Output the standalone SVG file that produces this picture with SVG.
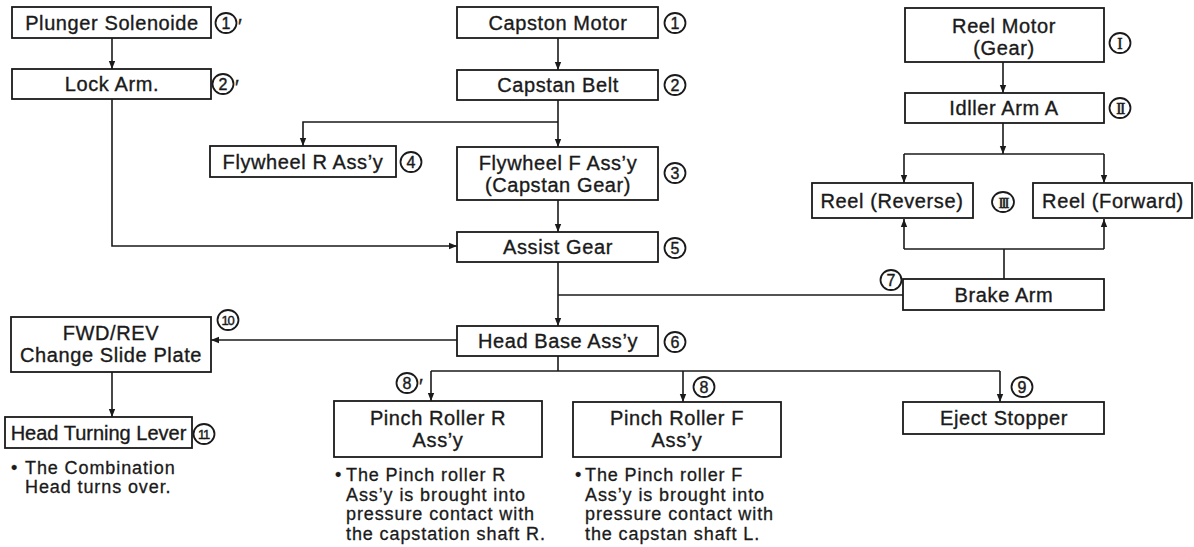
<svg xmlns="http://www.w3.org/2000/svg" width="1194" height="547" viewBox="0 0 1194 547">
<style>
.box{fill:#fff;stroke:#1a1a1a;stroke-width:1.8}
.t{font-family:"Liberation Sans",Arial,sans-serif;font-size:20px;fill:#1a1a1a;text-anchor:middle;letter-spacing:0.6px;stroke:#1a1a1a;stroke-width:0.35}
.n{font-family:"Liberation Sans",Arial,sans-serif;font-size:18px;fill:#1a1a1a;letter-spacing:0.9px;stroke:#1a1a1a;stroke-width:0.3}
.c{fill:none;stroke:#1a1a1a;stroke-width:1.8}
.cn{font-family:"Liberation Sans",Arial,sans-serif;font-size:16px;fill:#1a1a1a;text-anchor:middle;stroke:#1a1a1a;stroke-width:0.4}
.cn2{font-family:"Liberation Sans",Arial,sans-serif;font-size:13px;fill:#1a1a1a;text-anchor:middle;stroke:#1a1a1a;stroke-width:0.4;letter-spacing:-1.2px}
.cr{font-family:"Liberation Serif","Times New Roman",serif;font-size:16px;fill:#1a1a1a;text-anchor:middle;stroke:#1a1a1a;stroke-width:0.5}
.pr{font-family:"Liberation Sans",Arial,sans-serif;font-size:20px;fill:#1a1a1a;stroke:#1a1a1a;stroke-width:0.4}
.ln{fill:none;stroke:#1a1a1a;stroke-width:1.6}
</style>
<defs>
<marker id="ah" markerWidth="8" markerHeight="8" refX="8" refY="4" orient="auto" markerUnits="userSpaceOnUse">
<path d="M0,0.8 L8,4 L0,7.2 Z" fill="#1a1a1a"/>
</marker>
</defs>
<rect width="1194" height="547" fill="#fff"/>

<g id="connectors">
<path class="ln" d="M112,38 V69" marker-end="url(#ah)"/>
<path class="ln" d="M112,99 V246 H457" marker-end="url(#ah)"/>
<path class="ln" d="M558,38 V70" marker-end="url(#ah)"/>
<path class="ln" d="M558,100 V147" marker-end="url(#ah)"/>
<path class="ln" d="M558,122 H303 V146" marker-end="url(#ah)"/>
<path class="ln" d="M558,200 V232" marker-end="url(#ah)"/>
<path class="ln" d="M558,262 V326" marker-end="url(#ah)"/>
<path class="ln" d="M558,295 H903"/>
<path class="ln" d="M457,340 H211" marker-end="url(#ah)"/>
<path class="ln" d="M112,372 V417" marker-end="url(#ah)"/>
<path class="ln" d="M558,356 V371"/>
<path class="ln" d="M431,371 H1000"/>
<path class="ln" d="M431,371 V401" marker-end="url(#ah)"/>
<path class="ln" d="M683,371 V402" marker-end="url(#ah)"/>
<path class="ln" d="M1000,371 V402" marker-end="url(#ah)"/>
<path class="ln" d="M1003,62 V93" marker-end="url(#ah)"/>
<path class="ln" d="M1003,123 V154" marker-end="url(#ah)"/>
<path class="ln" d="M904,154 H1104"/>
<path class="ln" d="M904,154 V183" marker-end="url(#ah)"/>
<path class="ln" d="M1104,154 V183" marker-end="url(#ah)"/>
<path class="ln" d="M1004,279 V249"/>
<path class="ln" d="M904,249 H1104"/>
<path class="ln" d="M904,249 V219" marker-end="url(#ah)"/>
<path class="ln" d="M1104,249 V219" marker-end="url(#ah)"/>
</g>

<g id="plunger-solenoide">
<rect class="box" x="12" y="7" width="199" height="31"/>
<text class="t" x="112" y="30">Plunger Solenoide</text>
<ellipse class="c" cx="226" cy="23" rx="10.5" ry="10"/><text class="cn" x="226" y="29">1</text>
<text class="pr" x="238" y="33">′</text>
</g>

<g id="lock-arm">
<rect class="box" x="12" y="69" width="199" height="30"/>
<text class="t" x="112" y="91">Lock Arm.</text>
<ellipse class="c" cx="223" cy="84" rx="10.5" ry="10"/><text class="cn" x="223" y="90">2</text>
<text class="pr" x="235" y="94">′</text>
</g>

<g id="capston-motor">
<rect class="box" x="457" y="7" width="201" height="31"/>
<text class="t" x="558" y="30">Capston Motor</text>
<ellipse class="c" cx="675" cy="23" rx="10.5" ry="10"/><text class="cn" x="675" y="29">1</text>
</g>

<g id="capstan-belt">
<rect class="box" x="457" y="70" width="201" height="30"/>
<text class="t" x="558" y="92">Capstan Belt</text>
<ellipse class="c" cx="675" cy="85" rx="10.5" ry="10"/><text class="cn" x="675" y="91">2</text>
</g>

<g id="flywheel-r">
<rect class="box" x="210" y="146" width="186" height="31"/>
<text class="t" x="303" y="169">Flywheel R Ass’y</text>
<ellipse class="c" cx="411" cy="162" rx="10.5" ry="10"/><text class="cn" x="411" y="168">4</text>
</g>

<g id="flywheel-f">
<rect class="box" x="457" y="147" width="201" height="53"/>
<text class="t" x="558" y="170">Flywheel F Ass’y</text>
<text class="t" x="558" y="192">(Capstan Gear)</text>
<ellipse class="c" cx="675" cy="173" rx="10.5" ry="10"/><text class="cn" x="675" y="179">3</text>
</g>

<g id="assist-gear">
<rect class="box" x="457" y="232" width="201" height="30"/>
<text class="t" x="558" y="254">Assist Gear</text>
<ellipse class="c" cx="675" cy="248" rx="10.5" ry="10"/><text class="cn" x="675" y="254">5</text>
</g>

<g id="head-base">
<rect class="box" x="457" y="326" width="201" height="30"/>
<text class="t" x="558" y="348">Head Base Ass’y</text>
<ellipse class="c" cx="675" cy="342" rx="10.5" ry="10"/><text class="cn" x="675" y="348">6</text>
</g>

<g id="fwd-rev">
<rect class="box" x="11" y="317" width="200" height="55"/>
<text class="t" x="111" y="340">FWD/REV</text>
<text class="t" x="111" y="362">Change Slide Plate</text>
<ellipse class="c" cx="228" cy="320" rx="10.5" ry="10"/><text class="cn2" x="227.5" y="324.7">10</text>
</g>

<g id="head-turning-lever">
<rect class="box" x="5" y="417" width="187" height="31"/>
<text class="t" x="98.5" y="440" style="letter-spacing:0">Head Turning Lever</text>
<ellipse class="c" cx="204" cy="434" rx="10.5" ry="10"/><text class="cn2" x="203.5" y="438.7">11</text>
<text class="n"><tspan x="11" y="474">•</tspan><tspan x="25" y="474">The Combination</tspan></text>
<text class="n" x="25" y="493">Head turns over.</text>
</g>

<g id="pinch-roller-r">
<rect class="box" x="334" y="401" width="208" height="56"/>
<text class="t" x="438" y="425">Pinch Roller R</text>
<text class="t" x="438" y="447">Ass’y</text>
<ellipse class="c" cx="407" cy="383" rx="10.5" ry="10"/><text class="cn" x="407" y="389">8</text>
<text class="pr" x="419" y="393">′</text>
<text class="n"><tspan x="335" y="481">•</tspan><tspan x="346" y="481">The Pinch roller R</tspan></text>
<text class="n" x="346" y="501">Ass’y is brought into</text>
<text class="n" x="346" y="520">pressure contact with</text>
<text class="n" x="346" y="540">the capstation shaft R.</text>
</g>

<g id="pinch-roller-f">
<rect class="box" x="573" y="402" width="208" height="55"/>
<text class="t" x="677" y="425">Pinch Roller F</text>
<text class="t" x="677" y="447">Ass’y</text>
<ellipse class="c" cx="704" cy="387" rx="10.5" ry="10"/><text class="cn" x="704" y="393">8</text>
<text class="n"><tspan x="575" y="481">•</tspan><tspan x="585" y="481">The Pinch roller F</tspan></text>
<text class="n" x="585" y="501">Ass’y is brought into</text>
<text class="n" x="585" y="520">pressure contact with</text>
<text class="n" x="585" y="540">the capstan shaft L.</text>
</g>

<g id="eject-stopper">
<rect class="box" x="903" y="402" width="201" height="32"/>
<text class="t" x="1004" y="425">Eject Stopper</text>
<ellipse class="c" cx="1022" cy="387" rx="10.5" ry="10"/><text class="cn" x="1022" y="393">9</text>
</g>

<g id="reel-motor">
<rect class="box" x="905" y="8" width="199" height="54"/>
<text class="t" x="1004" y="33">Reel Motor</text>
<text class="t" x="1004" y="55">(Gear)</text>
<ellipse class="c" cx="1120" cy="43" rx="10.5" ry="10"/><text class="cr" x="1120" y="48.5">I</text>
</g>

<g id="idler-arm-a">
<rect class="box" x="905" y="93" width="199" height="30"/>
<text class="t" x="1004" y="115">Idller Arm A</text>
<ellipse class="c" cx="1120" cy="108" rx="10.5" ry="10"/><text class="cr" x="1120" y="113.5" style="letter-spacing:-1.5px">II</text>
</g>

<g id="reel-reverse">
<rect class="box" x="812" y="183" width="161" height="35"/>
<text class="t" x="892" y="208">Reel (Reverse)</text>
</g>

<g id="reel-label-iii">
<ellipse class="c" cx="1003" cy="202" rx="11" ry="10"/><text class="cr" x="1003" y="207.5" style="font-size:15px;letter-spacing:-2px">III</text>
</g>

<g id="reel-forward">
<rect class="box" x="1033" y="183" width="159" height="35"/>
<text class="t" x="1113" y="208">Reel (Forward)</text>
</g>

<g id="brake-arm">
<rect class="box" x="903" y="279" width="201" height="31"/>
<text class="t" x="1004" y="302">Brake Arm</text>
<ellipse class="c" cx="891" cy="280" rx="10.5" ry="10"/><text class="cn" x="891" y="286">7</text>
</g>
</svg>
